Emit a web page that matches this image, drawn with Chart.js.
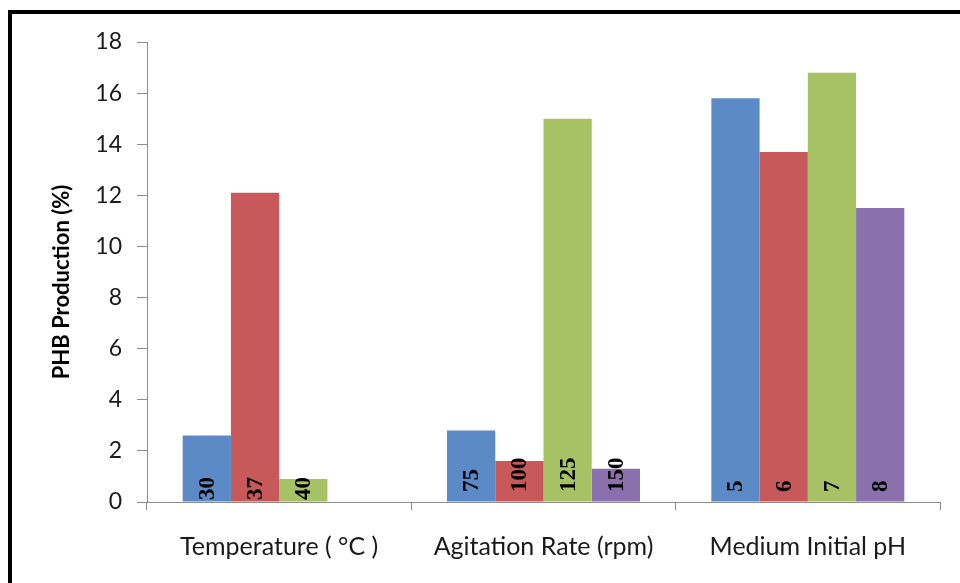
<!DOCTYPE html>
<html>
<head>
<meta charset="utf-8">
<script src="https://cdn.jsdelivr.net/npm/chart.js@4"></script>
<style>
  html, body { margin: 0; padding: 0; background: #fff; }
  #wrap { position: relative; width: 960px; height: 583px; overflow: hidden; }
  #frame { position: absolute; left: 8px; top: 10px; right: -10px; bottom: -10px;
           border-left: 4px solid #000; border-top: 4px solid #000; pointer-events: none; }
  canvas { position: absolute; left: 0; top: 0; }
</style>
</head>
<body>
<div id="wrap">
  <canvas id="c" width="960" height="583"></canvas>
  <div id="frame"></div>
</div>
<script>
// Factors studied and PHB production (%) at each tested level
const categories = ['Temperature ( °C )', 'Agitation Rate (rpm)', 'Medium Initial pH'];

const level1Values = [2.6, 2.8, 15.8];
const level2Values = [12.1, 1.6, 13.7];
const level3Values = [0.9, 15.0, 16.8];
const level4Values = [null, 1.3, 11.5];

// Level written inside each bar
const level1Labels = ['30', '75', '5'];
const level2Labels = ['37', '100', '6'];
const level3Labels = ['40', '125', '7'];
const level4Labels = ['', '150', '8'];

const yTicks = [0, 2, 4, 6, 8, 10, 12, 14, 16, 18];
const yTitle = 'PHB Production (%)';

const seriesColors = ['#5B8AC6', '#C8595A', '#A6C265', '#8A70AC'];
const labelLift = [2, 10, 10];

const allLabels = [level1Labels, level2Labels, level3Labels, level4Labels];
const allValues = [level1Values, level2Values, level3Values, level4Values];

// Rotated level names inside the bars, plus the vertical axis title
const barLabelPlugin = {
  id: 'barLabels',
  afterDatasetsDraw(chart) {
    const ctx = chart.ctx;
    const yScale = chart.scales.y;
    ctx.save();
    ctx.font = 'bold 23px "Liberation Serif", "DejaVu Serif", serif';
    ctx.fillStyle = '#000';
    ctx.textAlign = 'left';
    ctx.textBaseline = 'middle';
    chart.data.datasets.forEach((ds, di) => {
      const meta = chart.getDatasetMeta(di);
      meta.data.forEach((bar, i) => {
        const text = allLabels[di][i];
        if (!text || ds.data[i] == null) return;
        const base = yScale.getPixelForValue(0);
        ctx.save();
        ctx.translate(bar.x, base - labelLift[i]);
        ctx.rotate(-Math.PI / 2);
        ctx.fillText(text, 0, 1);
        ctx.restore();
      });
    });

    ctx.font = 'bold 22px Lato, sans-serif';
    ctx.textAlign = 'center';
    ctx.textBaseline = 'middle';
    ctx.save();
    ctx.translate(62, (chart.chartArea.top + chart.chartArea.bottom) / 2 + 10);
    ctx.rotate(-Math.PI / 2);
    ctx.fillText(yTitle, 0, 0);
    ctx.restore();
    ctx.restore();
  }
};

const axisGrey = '#8C8C8C';

new Chart(document.getElementById('c'), {
  type: 'bar',
  data: {
    labels: categories,
    datasets: allValues.map((vals, k) => ({
      label: 'Level ' + (k + 1),
      data: vals,
      backgroundColor: seriesColors[k],
      borderWidth: 0,
      categoryPercentage: 0.73,
      barPercentage: 1.0
    }))
  },
  options: {
    responsive: false,
    animation: false,
    devicePixelRatio: 1,
    layout: { padding: { left: 0, top: 42, right: 20, bottom: 0 } },
    plugins: { legend: { display: false }, tooltip: { enabled: false } },
    scales: {
      x: {
        offset: true,
        grid: { offset: true, drawOnChartArea: false, drawTicks: true, tickLength: 8, color: axisGrey },
        border: { color: axisGrey, width: 1 },
        ticks: { color: '#1a1a1a', font: { family: 'Lato', size: 25 }, padding: 22, maxRotation: 0 },
        afterFit(scale) { scale.height = 81; }
      },
      y: {
        min: 0,
        max: 18,
        afterBuildTicks(scale) { scale.ticks = yTicks.map(v => ({ value: v })); },
        grid: { drawOnChartArea: false, drawTicks: true, tickLength: 10, color: axisGrey },
        border: { color: axisGrey, width: 1 },
        ticks: { color: '#1a1a1a', font: { family: 'Lato', size: 23 }, padding: 15 },
        afterFit(scale) { scale.width = 147; }
      }
    }
  },
  plugins: [barLabelPlugin]
});
</script>
</body>
</html>
